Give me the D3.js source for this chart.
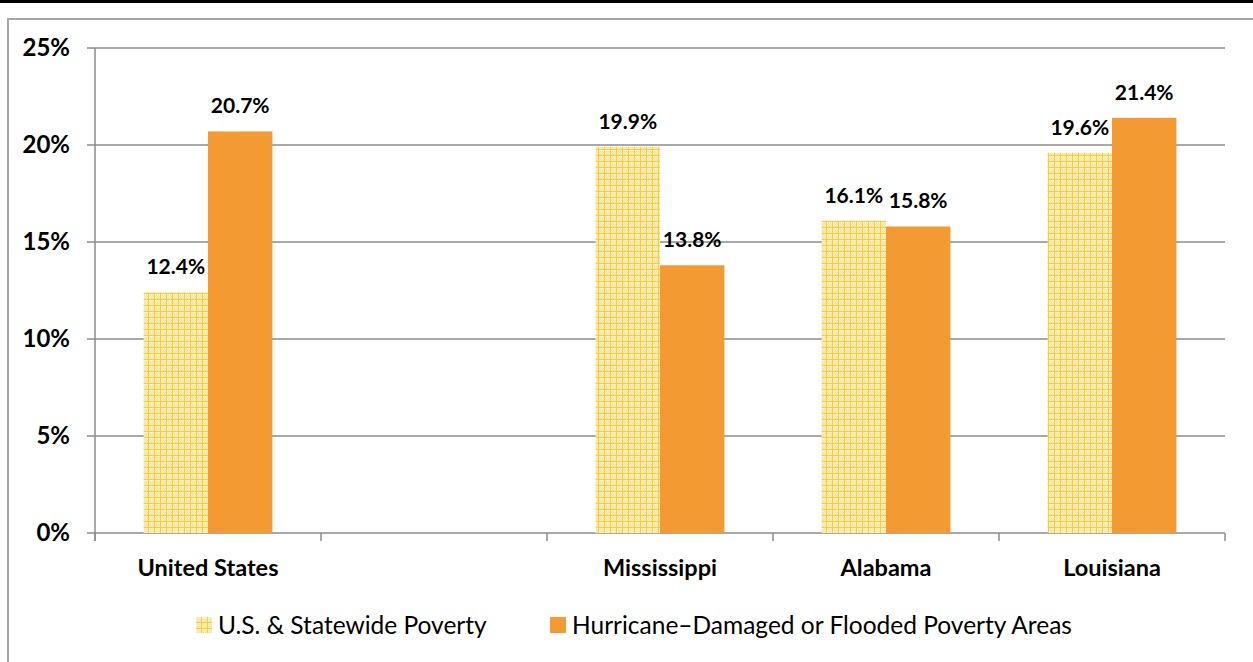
<!DOCTYPE html>
<html>
<head>
<meta charset="utf-8">
<script src="https://cdn.jsdelivr.net/npm/d3@7"></script>
<style>
  body { margin: 0; background: #fff; }
  svg { display: block; font-family: Lato, "Open Sans", sans-serif; }
</style>
</head>
<body>
<div id="chart"></div>
<script>
const categories = ["United States", "", "Mississippi", "Alabama", "Louisiana"];
const seriesNames = ["U.S. & Statewide Poverty", "Hurricane\u2013Damaged or Flooded Poverty Areas"];
const statewide = [12.4, null, 19.9, 16.1, 19.6];
const hurricane = [20.7, null, 13.8, 15.8, 21.4];
const yTicks = [0, 5, 10, 15, 20, 25];

const W = 1253, H = 662;
const margin = { top: 48, left: 95, right: 28, bottom: 129 };
const width = W - margin.left - margin.right;
const height = H - margin.top - margin.bottom;

const svg = d3.select("#chart").append("svg")
  .attr("width", W)
  .attr("height", H);

// pattern for statewide bars
const defs = svg.append("defs");
const pat = defs.append("pattern")
  .attr("id", "grid-pat")
  .attr("patternUnits", "userSpaceOnUse")
  .attr("width", 6)
  .attr("height", 6);
pat.append("rect").attr("width", 6).attr("height", 6).attr("fill", "#fff2c6");
[[1, 1], [3, 1], [1, 3], [3, 3], [2, 2], [4, 4], [2, 4], [4, 2]].forEach(([px, py]) => {
  pat.append("rect").attr("x", px).attr("y", py).attr("width", 1).attr("height", 1).attr("fill", "#fde08a");
});
pat.append("rect").attr("x", 5).attr("y", 0).attr("width", 1).attr("height", 6).attr("fill", "#ffc93a");
pat.append("rect").attr("x", 0).attr("y", 5).attr("width", 6).attr("height", 1).attr("fill", "#ffc93a");

const fills = ["url(#grid-pat)", "#f39b32"];

// frame
svg.append("rect").attr("x", 0).attr("y", 0).attr("width", W).attr("height", 3).attr("fill", "#000");
svg.append("path")
  .attr("d", `M8,${H + 5}V19H${W + 5}`)
  .attr("fill", "none")
  .attr("stroke", "#a6a6a6")
  .attr("stroke-width", 2);

const g = svg.append("g").attr("transform", `translate(${margin.left},${margin.top})`);

const x = d3.scaleBand().domain(d3.range(categories.length)).range([0, width]).paddingInner(0).paddingOuter(0);
const y = d3.scaleLinear().domain([0, 25]).range([height, 0]);
const barW = x.bandwidth() * 0.285;
const x1 = d3.scaleBand().domain([0, 1]).range([x.bandwidth() / 2 - barW, x.bandwidth() / 2 + barW]);

// gridlines
g.append("g")
  .selectAll("line")
  .data(yTicks)
  .join("line")
  .attr("x1", -8)
  .attr("x2", width)
  .attr("y1", d => y(d))
  .attr("y2", d => y(d))
  .attr("stroke", "#8c8c8c")
  .attr("stroke-width", 1.5);

// y axis line
g.append("line")
  .attr("x1", 0).attr("x2", 0)
  .attr("y1", 0).attr("y2", height + 8)
  .attr("stroke", "#8c8c8c").attr("stroke-width", 1.5);

// x ticks at band edges
g.append("g")
  .selectAll("line")
  .data(d3.range(categories.length + 1))
  .join("line")
  .attr("x1", d => d * x.step())
  .attr("x2", d => d * x.step())
  .attr("y1", height)
  .attr("y2", height + 8)
  .attr("stroke", "#8c8c8c")
  .attr("stroke-width", 1.5);

// y labels
g.append("g")
  .selectAll("text")
  .data(yTicks)
  .join("text")
  .attr("x", -25)
  .attr("y", d => y(d))
  .attr("dy", "0.35em")
  .attr("text-anchor", "end")
  .style("font-size", "24px")
  .style("font-weight", "bold")
  .text(d => d + "%");

// bars
const series = [statewide, hurricane];
series.forEach((vals, si) => {
  const data = vals.map((v, i) => ({ v, i })).filter(d => d.v != null);
  g.append("g")
    .selectAll("rect")
    .data(data)
    .join("rect")
    .attr("x", d => x(d.i) + x1(si))
    .attr("y", d => y(d.v))
    .attr("width", x1.bandwidth())
    .attr("height", d => height - y(d.v))
    .attr("fill", fills[si]);

  g.append("g")
    .selectAll("text")
    .data(data)
    .join("text")
    .attr("x", d => x(d.i) + x1(si) + x1.bandwidth() / 2)
    .attr("y", d => y(d.v) - 18)
    .attr("text-anchor", "middle")
    .style("font-size", "21px")
    .style("font-weight", "bold")
    .text(d => d.v.toFixed(1) + "%");
});

// category labels
g.append("g")
  .selectAll("text")
  .data(categories)
  .join("text")
  .attr("x", (d, i) => x(i) + x.bandwidth() / 2)
  .attr("y", height + 43)
  .attr("text-anchor", "middle")
  .style("font-size", "23.5px")
  .style("font-weight", "bold")
  .text(d => d);

// legend
const legendX = [196, 550];
seriesNames.forEach((name, i) => {
  const lg = svg.append("g").attr("transform", `translate(${legendX[i]},617)`);
  lg.append("rect").attr("width", 16).attr("height", 16).attr("fill", fills[i]);
  lg.append("text")
    .attr("x", 22)
    .attr("y", 8)
    .attr("dy", "0.35em")
    .style("font-size", "24.5px")
    .text(name);
});
</script>
</body>
</html>
